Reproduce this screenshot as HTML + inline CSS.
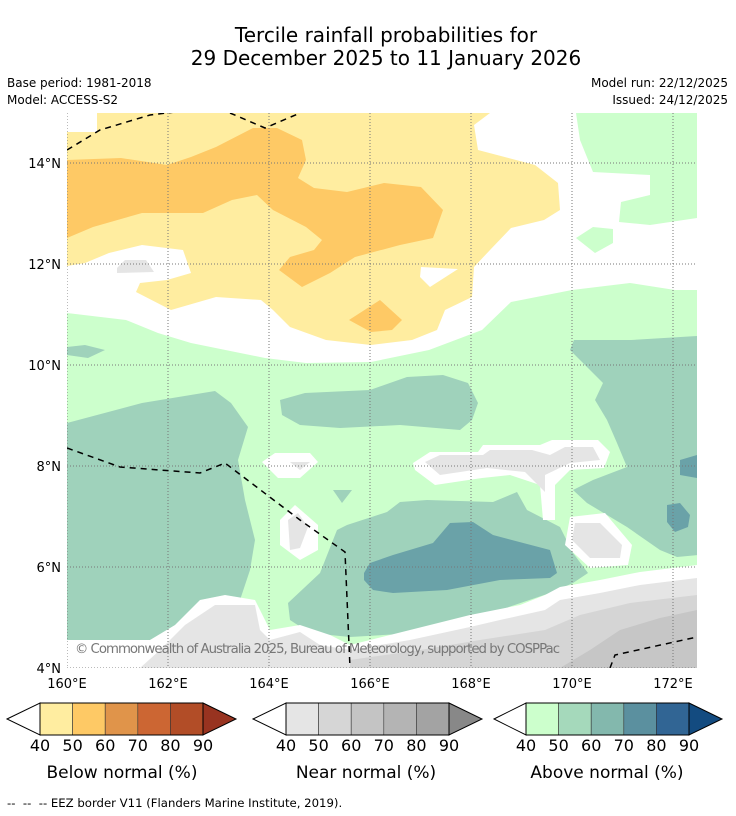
<!DOCTYPE html>
<html><head><meta charset="utf-8"><style>
body{margin:0;background:#fff;width:736px;height:816px;overflow:hidden;font-family:"Liberation Sans","DejaVu Sans",sans-serif}
svg{position:absolute;left:0;top:0}
</style></head><body>
<svg id="s" width="736" height="816" xmlns="http://www.w3.org/2000/svg">
<text x="386" y="42" font-size="20" text-anchor="middle" font-family="DejaVu Sans">Tercile rainfall probabilities for</text>
<text x="386" y="65" font-size="20" text-anchor="middle" font-family="DejaVu Sans">29 December 2025 to 11 January 2026</text>
<text x="7" y="87" font-size="12" font-family="DejaVu Sans">Base period: 1981-2018</text>
<text x="7" y="104" font-size="12" font-family="DejaVu Sans">Model: ACCESS-S2</text>
<text x="728" y="87" font-size="12" text-anchor="end" font-family="DejaVu Sans">Model run: 22/12/2025</text>
<text x="728" y="104" font-size="12" text-anchor="end" font-family="DejaVu Sans">Issued: 24/12/2025</text>
<defs><clipPath id="mc"><rect x="67" y="113" width="630" height="555"/></clipPath></defs>
<g clip-path="url(#mc)">
<rect x="67" y="113" width="630" height="555" fill="#fff"/>
<polygon fill="#ccffcc" points="67,313 126,320 158,333 191,343 265,358 306,363 371,362 429,350 482,330 511,302 572,290 630,283 675,290 697,290 697,668 67,668"/>
<polygon fill="#ccffcc" points="576,113 697,113 697,218 650,225 619,222 621,202 650,195 650,175 593,172 580,140"/>
<polygon fill="#ccffcc" points="576,238 593,227 613,229 613,243 595,253"/>
<polygon fill="#ffeda0" points="97,113 490,113 474,125 478,150 535,165 558,183 560,210 544,220 511,228 490,250 474,267 472,297 445,310 437,330 412,340 371,345 326,340 290,327 273,310 261,300 216,297 171,310 136,292 140,283 167,280 191,273 183,250 142,245 109,253 85,263 67,266 67,132 97,132"/>
<polygon fill="#fff" points="421,267 458,269 430,287 420,277"/>
<polygon fill="#e5e5e5" points="117,268 125,260 146,260 154,272 117,273"/>
<polygon fill="#fec965" points="67,160 121,158 167,165 191,157 216,147 253,128 277,128 302,140 306,160 298,178 314,188 347,192 384,183 421,187 443,210 433,238 400,245 355,257 330,273 302,287 279,270 290,257 314,250 322,240 306,227 273,210 257,195 232,200 203,213 142,213 93,227 67,238"/>
<polygon fill="#fec965" points="349,320 380,300 402,320 392,330 371,332"/>
<polygon fill="#9fd2bb" points="67,347 85,345 105,350 88,358 67,355"/>
<polygon fill="#9fd2bb" points="67,423 142,403 215,391 231,403 248,427 238,460 245,500 255,540 250,570 240,600 225,620 190,625 150,640 67,640"/>
<polygon fill="#9fd2bb" points="280,400 305,393 370,390 407,377 443,375 468,383 478,403 472,420 460,430 400,425 340,428 300,425 282,415"/>
<polygon fill="#9fd2bb" points="288,603 320,573 337,530 347,525 387,512 400,502 427,500 493,502 517,492 527,510 560,527 573,553 588,573 573,583 550,593 500,610 463,623 417,633 350,637 310,633 290,620"/>
<polygon fill="#9fd2bb" points="570,350 574,340 631,340 698,336 698,555 677,557 660,550 627,527 587,503 573,490 593,480 627,467 617,443 607,420 595,400 603,383 587,367"/>
<polygon fill="#9fd2bb" points="333,490 352,490 342,503"/>
<polygon fill="#6aa2a8" points="364,573 370,563 393,555 433,543 450,523 473,522 493,535 550,550 557,573 550,578 500,580 447,590 393,593 373,590 364,580"/>
<polygon fill="#6aa2a8" points="680,460 697,455 697,478 680,475"/>
<polygon fill="#6aa2a8" points="667,505 680,503 690,515 688,527 675,532 667,522"/>
<polygon fill="#fff" points="413,463 430,452 478,452 483,445 540,445 552,440 598,440 610,452 604,468 570,470 555,485 555,520 543,520 540,485 510,475 482,478 435,485 415,470"/>
<polygon fill="#e5e5e5" points="425,462 440,455 483,455 490,450 532,450 550,455 565,447 593,447 600,460 570,463 545,475 545,492 525,472 487,468 440,475"/>
<polygon fill="#fff" points="262,462 275,453 310,453 318,462 300,478 278,478"/>
<polygon fill="#e5e5e5" points="290,462 310,462 300,470"/>
<polygon fill="#fff" points="280,520 295,505 318,525 318,550 300,560 280,545"/>
<polygon fill="#e5e5e5" points="288,520 298,513 308,527 300,548 290,550"/>
<polygon fill="#fff" points="570,517 605,513 632,545 628,565 590,568 565,545"/>
<polygon fill="#e5e5e5" points="575,523 600,523 622,545 620,558 590,558 572,540"/>
<polygon fill="#fff" points="67,640 150,640 175,625 200,600 225,595 255,600 265,620 270,630 300,625 330,635 350,645 410,630 470,615 520,605 545,595 560,587 600,580 640,572 697,565 697,668 67,668"/>
<polygon fill="#e5e5e5" points="160,650 185,625 215,605 255,605 260,630 270,640 300,632 320,645 350,650 410,640 470,627 500,620 545,610 560,600 600,593 640,585 697,578 697,668 140,668"/>
<polygon fill="#d5d5d5" points="350,660 420,650 480,640 545,630 580,615 630,603 697,595 697,668 350,668"/>
<polygon fill="#c6c6c6" points="560,668 590,650 620,630 660,618 697,610 697,668"/>
<g id="grid"></g>
<g fill="none" stroke="#000" stroke-width="1.5" stroke-dasharray="6,5">
<polyline points="67,150 100,130 150,115 175,112"/>
<polyline points="230,113 265,128 300,113"/>
<polyline points="67,448 120,467 200,473 225,463 300,520 345,552 350,668"/>
<polyline points="610,668 615,655 697,637"/>
</g>
<text x="75" y="653" font-size="13.3" fill="#777" font-family="DejaVu Sans" textLength="485">© Commonwealth of Australia 2025, Bureau of Meteorology, supported by COSPPac</text>
</g>
<g id="axes"></g>
<g id="bars"></g>
<text x="122" y="778" font-size="17" text-anchor="middle" font-family="DejaVu Sans">Below normal (%)</text>
<text x="366" y="778" font-size="17" text-anchor="middle" font-family="DejaVu Sans">Near normal (%)</text>
<text x="607" y="778" font-size="17" text-anchor="middle" font-family="DejaVu Sans">Above normal (%)</text>
<text x="7" y="807" font-size="11.7" font-family="DejaVu Sans" style="white-space:pre">--  --  -- EEZ border V11 (Flanders Marine Institute, 2019).</text>
</svg>
<script>
const lonTicks=[160,162,164,166,168,170,172];
const latTicks=[4,6,8,10,12,14];
const cbLabels=[40,50,60,70,80,90];
const belowColors=["#ffeda0","#fec965","#e0944a","#cc6633","#b24d27","#983320"];
const nearColors=["#e5e5e5","#d6d6d6","#c4c4c4","#b4b4b4","#a3a3a3","#888888"];
const aboveColors=["#ccffcc","#a5d9bb","#83b8ad","#5b909f","#316594","#134b80"];
const NS="http://www.w3.org/2000/svg";
const x=l=>67+(l-160)*50.5, y=a=>668-(a-4)*50.5;
const grid=document.getElementById('grid'), axes=document.getElementById('axes');
function mk(t,at,p){const e=document.createElementNS(NS,t);for(const k in at)e.setAttribute(k,at[k]);p.appendChild(e);return e;}
lonTicks.forEach(l=>{
 const g=mk('line',{x1:x(l),x2:x(l),y1:113,y2:668,stroke:'#777','stroke-width':1,'stroke-dasharray':'1,2'},grid);
 
 
 const t=mk('text',{x:x(l),y:688,'font-size':13,'text-anchor':'middle','font-family':'DejaVu Sans'},axes);t.textContent=l+'°E';
 
 
});
latTicks.forEach(a=>{
 const g=mk('line',{x1:67,x2:697,y1:y(a),y2:y(a),stroke:'#777','stroke-width':1,'stroke-dasharray':'1,2'},grid);
 
 
 const t=mk('text',{x:61,y:y(a)+5,'font-size':13,'text-anchor':'end','font-family':'DejaVu Sans'},axes);t.textContent=a+'°N';
 
 
});
const bars=document.getElementById('bars');
[[7,40,belowColors,'below'],[253,286,nearColors,'near'],[494,526,aboveColors,'above']].forEach(([tip,bx,cols,nm])=>{
 const w=32.6,top=703,h=32,mid=top+h/2,end=bx+w*5;
 const lt=mk('polygon',{points:`${tip},${mid} ${bx},${top} ${bx},${top+h}`,fill:'#fff',stroke:'#000','stroke-width':1},bars);
 
 
 for(let i=0;i<5;i++){
  const r=mk('rect',{x:bx+i*w,y:top,width:w,height:h,fill:cols[i],stroke:'#333','stroke-width':0.6},bars);
  
  
 }
 const rt=mk('polygon',{points:`${end},${top} ${end+33},${mid} ${end},${top+h}`,fill:cols[5],stroke:'#000','stroke-width':1},bars);
 
 
 mk('rect',{x:bx,y:top,width:w*5,height:h,fill:'none',stroke:'#000','stroke-width':1},bars);
 cbLabels.forEach((v,i)=>{
  const t=mk('text',{x:bx+i*w,y:751,'font-size':16,'text-anchor':'middle','font-family':'DejaVu Sans'},bars);t.textContent=v;
  
  
 });
});
</script>
</body></html>
